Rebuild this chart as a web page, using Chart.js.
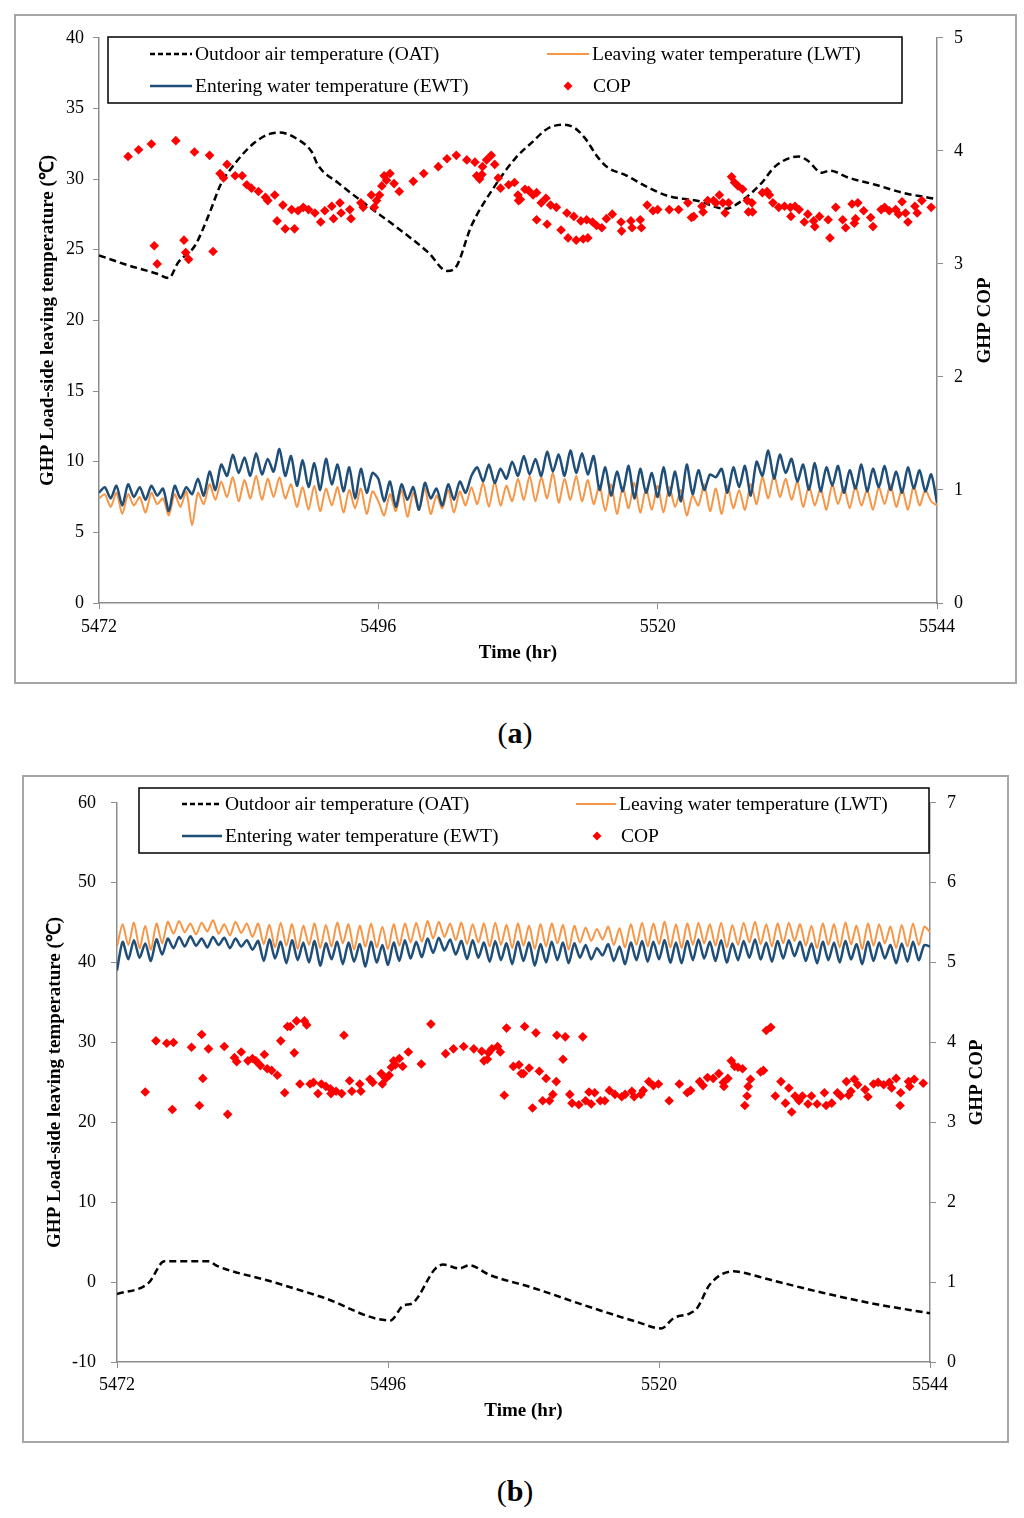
<!DOCTYPE html>
<html lang="en">
<head>
<meta charset="UTF-8">
<title>GHP load-side temperatures and COP</title>
<script src="https://cdn.jsdelivr.net/npm/chart.js"></script>
<style>
  html, body { margin: 0; padding: 0; background: #fff; }
  body { width: 1024px; height: 1518px; position: relative; font-family: "Liberation Serif", serif; }
  .panel { position: absolute; border: 2px solid #a6a6a6; box-sizing: border-box; background: #fff; }
  #pa { left: 14px; top: 14px; width: 1003px; height: 670px; }
  #pb { left: 22px; top: 775px; width: 987px; height: 668px; }
  .panel canvas { position: absolute; left: 0; top: 0; }
  .cap { position: absolute; left: 0; width: 1030px; text-align: center; font-size: 30px; color: #000; }
</style>
</head>
<body>
<div class="panel" id="pa"><canvas id="ca" width="999" height="666"></canvas></div>
<div class="cap" style="top:716px">(<b>a</b>)</div>
<div class="panel" id="pb"><canvas id="cb" width="983" height="664"></canvas></div>
<div class="cap" style="top:1474px">(<b>b</b>)</div>
<script>
// ---- time base for the water temperature traces (half-hour samples) ----
const t0 = 5472;
const stepHr = 0.5;

// ---- panel (a) ----
const oatHrsA = [5472, 5474.5, 5477, 5478, 5478.8, 5480.25, 5481.4, 5482.5, 5483.4, 5484.5, 5485.4, 5486.5, 5487.5,
  5489.1, 5490.3, 5490.8, 5492.6, 5495.1, 5497.4, 5500.3, 5501.9, 5502.6, 5504.0, 5506.0, 5507.8, 5509.2, 5510.6,
  5512.0, 5512.9, 5513.75, 5514.9, 5515.75, 5517.2, 5519.2, 5520.9, 5523.5, 5525.8, 5527.2, 5528.9, 5530.1, 5532.1,
  5532.9, 5534.1, 5534.8, 5536.4, 5538.7, 5541.2, 5543.8, 5544];
const oatA = [24.6, 23.9, 23.3, 23.0, 24.1, 25.3, 27.4, 29.7, 30.8, 31.9, 32.6, 33.15, 33.3,
  32.8, 31.9, 31.0, 29.7, 28.1, 26.7, 24.8, 23.5, 23.7, 26.7, 29.5, 31.5, 32.6, 33.6,
  33.85, 33.6, 32.9, 31.5, 30.8, 30.3, 29.4, 28.8, 28.45, 27.9, 28.45, 29.7, 30.9, 31.6,
  31.3, 30.45, 30.6, 30.1, 29.6, 29.0, 28.6, 28.55];

const ewtA = [7.8, 8.2, 7.4, 8.3, 6.9, 8.4, 7.5, 8.2, 7.3, 8.3, 7.6, 8.1, 6.5, 8.3, 7.4, 8.2, 7.7,
  8.8, 7.6, 9.3, 8.0, 9.8,
  9.0, 10.5, 9.2, 10.3, 9.0, 10.6, 9.1, 10.2, 9.3, 10.9, 9.0,
  10.4, 8.3, 10.1, 8.2, 9.9, 8.0, 10.2, 8.4, 9.8, 7.9,
  9.6, 7.4, 9.5, 7.8, 9.2, 8.8,
  7.2, 8.6, 6.8, 8.4, 7.3, 8.2, 6.6, 8.5, 7.4, 8.1, 6.9, 8.4, 7.3, 8.6, 7.8, 9.0,
  9.6, 8.6, 9.8, 8.5, 9.5, 8.8, 10.0, 9.0,
  10.4, 9.1, 10.2, 9.0, 10.7, 9.3, 10.5, 9.0, 10.8, 9.2, 10.6, 9.1, 10.4,
  8.0, 9.6, 7.6, 9.3, 7.9, 9.7, 7.4, 9.5, 7.8, 9.2, 7.5,
  9.6, 7.6, 9.3, 7.2, 9.8, 7.7, 9.4, 8.0, 9.1, 8.9, 9.5, 7.8, 9.6, 8.2, 9.7, 7.6, 10.0,
  9.0, 10.8, 8.8, 10.5, 9.2, 10.2, 8.6,
  9.8, 8.0, 9.9, 7.9, 9.6, 8.3, 9.7, 7.8, 9.4, 8.1, 9.8, 7.9, 9.5, 8.2, 9.7, 8.0, 9.3, 7.8, 9.6, 8.1, 9.4, 7.9, 9.1, 7.1];

const lwtA = [7.4, 7.7, 6.8, 7.8, 6.3, 7.7, 6.9, 7.5, 6.4, 7.8, 7.0, 7.4, 6.2, 7.7, 6.8, 7.9, 5.5,
  7.8, 7.0, 8.4, 7.3, 8.6, 7.5, 8.9, 7.2, 8.7, 7.4, 9.0, 7.3, 8.8, 7.5, 8.9, 7.4,
  8.4, 6.8, 8.2, 6.6, 8.3, 6.5, 8.1, 6.9, 8.2, 6.4, 8.0, 6.7, 8.1, 6.3, 7.9, 7.2,
  6.2, 7.7, 6.5, 8.0, 6.1, 7.8, 6.6, 8.1, 6.3, 7.6, 6.7, 8.0, 6.4, 7.9, 6.9, 8.2,
  7.0, 8.5, 6.8, 8.6, 6.9, 8.3, 7.2, 8.8,
  7.3, 9.0, 7.2, 8.9, 7.4, 9.2, 7.1, 8.8, 7.3, 9.0, 7.2, 8.7, 7.0,
  8.3, 6.5, 8.4, 6.3, 8.2, 6.7, 8.5, 6.4, 8.1, 6.6, 8.3,
  6.4, 8.2, 6.8, 8.0, 6.2, 7.6, 6.9, 8.4, 6.5, 8.1, 6.3, 8.3, 6.7, 8.0, 6.6, 8.4, 7.0,
  8.9, 7.4, 9.1, 7.5, 8.8, 7.3, 8.6,
  6.8, 8.3, 6.9, 8.1, 6.6, 8.4, 7.0, 8.2, 6.7, 8.3, 6.9, 8.0, 6.6, 8.2, 7.0, 8.4, 6.8, 8.1, 6.6, 8.3, 6.9, 8.0, 7.2, 6.9];

const copHrsA = [5474.5, 5475.4, 5476.5, 5478.6, 5480.2, 5481.5, 5476.75, 5477.0, 5479.3, 5479.45, 5479.7, 5481.8,
  5483.0, 5482.4, 5482.7, 5483.7, 5484.3, 5484.7, 5485.1, 5485.7, 5486.3, 5486.5, 5487.1, 5487.3, 5487.8, 5488.0,
  5488.55, 5488.8, 5489.1, 5489.55, 5490.0, 5490.55, 5491.05, 5491.4, 5492.0, 5492.15, 5492.7, 5492.8, 5493.55,
  5493.65, 5494.5, 5494.7, 5495.4, 5495.65, 5495.85, 5496.1, 5496.3, 5496.5, 5497.0, 5496.7, 5497.35, 5497.8,
  5499.0, 5499.9, 5501.15, 5501.9, 5502.7, 5503.6, 5504.3, 5504.45, 5504.7, 5504.9, 5504.95, 5505.3, 5505.7,
  5506.0, 5506.3, 5506.5, 5507.2, 5507.7, 5508.0, 5508.05,
  5508.2, 5508.6, 5508.9, 5509.3, 5509.6, 5509.6, 5510.0, 5510.4, 5510.5, 5510.8, 5511.3, 5511.7, 5512.2, 5512.3,
  5512.8, 5513.0, 5513.4, 5513.6, 5513.9, 5514.0, 5514.4, 5514.75, 5515.2, 5515.6, 5516.1, 5516.85, 5516.9, 5517.7,
  5517.8, 5518.5, 5518.6, 5519.1, 5519.6, 5520.0, 5521.0, 5521.8, 5522.6, 5522.9, 5523.1, 5523.8, 5523.9, 5524.3,
  5524.8, 5525.0, 5525.3, 5525.6, 5525.8, 5526.1, 5526.35, 5526.6, 5526.9, 5527.3, 5527.7, 5527.8, 5528.1, 5528.15,
  5529.0, 5529.4, 5529.6, 5529.9, 5530.4, 5530.9, 5531.4, 5531.45, 5531.8, 5532.15, 5532.6, 5532.9, 5533.4, 5533.5,
  5533.9, 5534.65, 5534.8, 5535.3, 5535.9, 5536.15, 5536.7, 5536.9, 5537.0, 5537.2, 5537.7, 5538.3, 5538.5, 5539.2,
  5539.5, 5539.9, 5540.45, 5540.7, 5541.0, 5541.3, 5541.5, 5542.1, 5542.3, 5542.7, 5543.5];
const copA = [3.95, 4.01, 4.06, 4.09, 3.99, 3.96, 3.16, 3.00, 3.21, 3.10, 3.04, 3.11,
  3.88, 3.80, 3.76, 3.78, 3.78, 3.70, 3.67, 3.64, 3.59, 3.56, 3.61, 3.38, 3.52, 3.31,
  3.48, 3.31, 3.47, 3.50, 3.48, 3.45, 3.37, 3.47, 3.51, 3.40, 3.54, 3.45, 3.48,
  3.40, 3.54, 3.50, 3.61, 3.50, 3.56, 3.61, 3.69, 3.78, 3.80, 3.74, 3.71, 3.64,
  3.73, 3.80, 3.86, 3.93, 3.96, 3.92, 3.90, 3.78, 3.75, 3.79, 3.86, 3.92, 3.96,
  3.88, 3.76, 3.67, 3.70, 3.72, 3.61, 3.56,
  3.57, 3.66, 3.65, 3.61, 3.63, 3.39, 3.54, 3.58, 3.35, 3.52, 3.50, 3.30, 3.45, 3.23,
  3.42, 3.21, 3.38, 3.22, 3.39, 3.23, 3.37, 3.34, 3.32, 3.40, 3.44, 3.37, 3.29, 3.38,
  3.32, 3.39, 3.32, 3.52, 3.47, 3.48, 3.48, 3.48, 3.54, 3.41, 3.42, 3.51, 3.46, 3.56,
  3.56, 3.54, 3.61, 3.54, 3.45, 3.54, 3.77, 3.72, 3.69, 3.66, 3.56, 3.46, 3.54, 3.46,
  3.63, 3.64, 3.61, 3.54, 3.50, 3.51, 3.50, 3.42, 3.51, 3.48, 3.37, 3.44, 3.38, 3.33,
  3.42, 3.39, 3.23, 3.50, 3.39, 3.32, 3.53, 3.36, 3.40, 3.54, 3.47, 3.41, 3.33, 3.48,
  3.50, 3.47, 3.48, 3.44, 3.55, 3.45, 3.37, 3.51, 3.45, 3.56, 3.50];

// ---- panel (b) ----
const oatHrsB = [5472, 5474.8, 5476.2, 5480.1, 5480.9, 5485.6, 5490.2, 5496.2, 5497.4, 5498.1, 5500.2, 5500.9,
  5502.3, 5503.2, 5505.0, 5508.8, 5513.4, 5518.1, 5520.2, 5521.3, 5522.75, 5523.4, 5524.5, 5526.6, 5527.4,
  5529.7, 5534.4, 5539.0, 5544];
const oatB = [-1.5, -0.1, 2.6, 2.6, 2.0, 0.1, -1.9, -4.8, -2.9, -2.7, 1.7, 2.2,
  1.7, 2.1, 0.9, -0.7, -2.9, -5.0, -5.8, -4.5, -3.9, -3.2, -0.3, 1.35, 1.2,
  0.35, -1.3, -2.7, -3.9];

const ewtB = [39.0, 42.6, 40.4, 42.8, 40.6, 42.4, 40.2, 42.9, 41.0, 43.0,
  41.8, 43.2, 42.0, 43.3, 42.1, 43.0, 41.9, 43.2, 42.2, 43.1, 41.8, 43.0, 42.0, 42.8, 41.6,
  42.7, 40.2, 42.9, 40.5, 42.6, 39.9, 42.8, 40.3, 42.5, 40.0, 42.7, 39.6, 42.4, 40.4, 42.6, 39.8, 42.5, 40.1, 42.3, 39.5, 42.6, 40.0, 42.2, 39.7, 42.5, 40.2,
  42.8, 40.5, 42.6, 40.7, 43.0, 41.2, 43.1, 41.5, 42.9, 41.0, 42.7, 40.4, 42.8, 40.6, 42.5, 40.1, 42.7, 40.3, 42.4, 39.8, 42.6, 40.2, 42.5, 39.6, 42.3, 40.0, 42.6, 40.3, 42.5, 39.9,
  42.4, 40.6, 42.2, 40.4, 41.8, 40.9, 42.3, 40.2, 42.0, 39.8, 42.5, 40.3, 42.7, 40.1, 42.6, 40.4, 42.8, 40.0, 42.5, 39.9, 42.7, 40.3, 42.9, 40.5, 42.6, 40.2, 42.8, 40.0, 42.4, 40.3,
  42.7, 40.6, 42.9, 40.4, 42.5, 40.1, 42.7, 40.5, 42.8, 40.8, 42.6, 40.2, 42.4, 39.9, 42.6, 40.3, 42.5, 40.0, 42.7, 40.4, 42.3, 39.8, 42.6, 40.2, 42.5, 40.5, 42.2, 39.9, 42.4, 40.1, 42.6, 40.3, 42.2, 42.0];

const lwtB = [42.0, 44.8, 42.2, 45.0, 41.8, 44.6, 41.6, 44.9, 42.4, 45.1,
  43.6, 45.2, 43.8, 44.9, 43.5, 45.0, 43.9, 45.3, 43.6, 44.8, 43.4, 45.1, 43.7, 44.9, 43.2,
  44.9, 42.3, 44.7, 41.9, 45.0, 42.1, 44.8, 41.7, 44.6, 42.2, 44.9, 41.8, 44.7, 42.0, 45.0, 42.4, 44.8, 41.6, 44.6, 42.0, 44.9, 41.9, 44.5, 41.7, 44.8, 42.1,
  44.9, 42.5, 45.0, 42.6, 45.2, 43.0, 45.1, 43.2, 44.9, 42.8, 45.0, 42.3, 44.8, 42.5, 44.9, 42.0, 45.0, 42.2, 44.7, 41.8, 44.9, 42.1, 44.6, 41.7, 44.8, 42.0, 44.9, 42.4, 44.7, 41.6,
  44.6, 42.5, 44.4, 42.7, 44.2, 42.9, 44.5, 42.2, 44.3, 41.9, 44.8, 42.2, 45.0, 42.0, 44.9, 42.3, 45.1, 41.9, 44.8, 41.8, 44.9, 42.2, 45.0, 42.4, 44.8, 42.1, 45.0, 41.9, 44.7, 42.2,
  45.0, 42.5, 45.1, 42.3, 44.8, 42.0, 44.9, 42.4, 45.0, 42.7, 44.8, 42.1, 44.6, 41.8, 44.9, 42.2, 44.8, 41.9, 45.0, 42.3, 44.6, 41.7, 44.9, 42.1, 44.8, 42.4, 44.5, 41.8, 44.7, 42.0, 44.9, 42.2, 44.5, 43.8];

const copHrsB = [5474.5, 5475.45, 5476.4, 5477.0, 5476.9, 5478.6, 5479.5, 5479.6, 5479.3, 5480.1, 5481.5, 5481.8,
  5482.4, 5482.6, 5483.0, 5483.6, 5484.0, 5484.3, 5484.7, 5485.05, 5485.3, 5485.7, 5486.2, 5486.5, 5486.85,
  5487.1, 5487.35, 5487.7, 5487.9, 5488.6, 5488.8, 5488.2, 5489.1, 5489.4, 5489.8, 5490.1, 5490.5, 5490.9,
  5490.95, 5491.4, 5491.9, 5492.1, 5492.6, 5492.8, 5493.5, 5493.6, 5494.4, 5494.65, 5495.4, 5495.5, 5495.8,
  5496.1, 5496.3, 5496.5, 5496.65, 5497.0, 5497.3, 5497.8, 5498.95, 5499.8, 5501.1, 5501.8, 5502.7, 5503.6,
  5504.3, 5504.5, 5504.8, 5504.9, 5505.2, 5505.7, 5505.95, 5506.3, 5506.5, 5507.1, 5507.6, 5507.8,
  5508.1, 5508.0, 5508.5, 5508.8, 5509.1, 5509.4, 5509.7, 5510.0, 5510.3, 5510.6, 5510.9, 5510.95, 5511.5,
  5511.7, 5512.1, 5512.3, 5512.9, 5513.25, 5513.5, 5513.8, 5514.0, 5514.3, 5514.8, 5515.2, 5515.6, 5516.1,
  5516.7, 5517.0, 5517.6, 5517.8, 5518.4, 5518.6, 5519.1, 5519.5, 5519.95, 5520.9, 5521.8, 5522.5, 5522.8,
  5523.6, 5523.9, 5524.3, 5524.8, 5525.3, 5525.7, 5525.75, 5526.1, 5526.4, 5526.7, 5527.0, 5527.4, 5527.6,
  5527.8, 5527.9, 5528.1, 5529.0, 5529.25, 5529.5, 5529.9, 5530.3, 5530.8, 5531.2, 5531.5, 5531.75, 5532.05,
  5532.4, 5532.7, 5533.2, 5533.5, 5534.0, 5534.65, 5534.8, 5535.3, 5535.8, 5536.1, 5536.6, 5536.8, 5537.0,
  5537.3, 5537.6, 5538.25, 5538.5, 5539.0, 5539.4, 5539.9, 5540.4, 5540.6, 5541.0, 5541.35, 5541.4, 5542.1,
  5542.2, 5542.6, 5543.4];
const copB = [3.38, 4.02, 3.99, 4.00, 3.16, 3.94, 4.10, 3.55, 3.21, 3.92, 3.95, 3.10,
  3.81, 3.76, 3.88, 3.77, 3.80, 3.77, 3.71, 3.85, 3.67, 3.65, 3.59, 4.02, 3.37,
  4.20, 4.20, 3.87, 4.27, 4.27, 4.22, 3.48, 3.48, 3.50, 3.36, 3.48, 3.45, 3.42,
  3.36, 3.39, 3.36, 4.09, 3.52, 3.39, 3.48, 3.39, 3.54, 3.50, 3.61, 3.48, 3.55,
  3.59, 3.69, 3.77, 3.72, 3.80, 3.70, 3.88, 3.73, 4.23, 3.86, 3.92, 3.95, 3.92,
  3.89, 3.77, 3.79, 3.87, 3.92, 3.95, 3.88, 3.34, 4.18, 3.70, 3.72, 3.61,
  4.20, 3.61, 3.68, 3.18, 4.12, 3.64, 3.27, 3.55, 3.27, 3.35, 3.51, 4.09, 3.79,
  4.07, 3.35, 3.24, 3.22, 4.07, 3.27, 3.38, 3.23, 3.37, 3.27, 3.27, 3.40, 3.35,
  3.32, 3.35, 3.39, 3.32, 3.35, 3.40, 3.51, 3.46, 3.48, 3.27, 3.48, 3.37, 3.40,
  3.51, 3.46, 3.56, 3.55, 3.61, 3.50, 3.45, 3.55, 3.77, 3.70, 3.69, 3.67, 3.21,
  3.33, 3.45, 3.54, 3.63, 3.65, 4.15, 4.19, 3.33, 3.51, 3.24, 3.43, 3.13, 3.33,
  3.27, 3.33, 3.23, 3.33, 3.23, 3.37, 3.21, 3.24, 3.37, 3.33, 3.51, 3.34, 3.39,
  3.54, 3.47, 3.41, 3.32, 3.48, 3.50, 3.47, 3.50, 3.43, 3.55, 3.21, 3.37, 3.51,
  3.45, 3.54, 3.49];

// ---- helpers ----
function halfHourly(vals) { return vals.map((v, i) => ({ x: t0 + i * stepHr, y: v })); }
function pairs(xs, ys) { return xs.map((x, i) => ({ x: x, y: ys[i] })); }

const serif = '"Liberation Serif", "Times New Roman", serif';
const tickFont = { family: serif, size: 18 };
const axisGrey = '#8c8c8c';

// legend box + axis titles drawn inside the canvas
const decor = {
  id: 'decor',
  afterDraw(chart, args, o) {
    const c = chart.ctx, a = chart.chartArea, L = o.legend;
    c.save();
    c.strokeStyle = '#000';
    c.lineWidth = 1.5;
    c.strokeRect(L.x, L.y, L.w, L.h);
    c.font = '19.5px ' + serif;
    c.fillStyle = '#000';
    c.textBaseline = 'middle';
    c.textAlign = 'left';
    const items = [
      { sx: L.sampleX[0], y: L.rows[0], color: '#000', dash: [5, 3], w: 2.5, text: 'Outdoor air temperature (OAT)' },
      { sx: L.sampleX[1], y: L.rows[0], color: '#f79646', dash: [], w: 2, text: 'Leaving water temperature (LWT)' },
      { sx: L.sampleX[0], y: L.rows[1], color: '#1f4e79', dash: [], w: 2.5, text: 'Entering water temperature (EWT)' }
    ];
    items.forEach(it => {
      c.beginPath();
      c.setLineDash(it.dash);
      c.strokeStyle = it.color;
      c.lineWidth = it.w;
      c.moveTo(it.sx, it.y);
      c.lineTo(it.sx + L.sampleW, it.y);
      c.stroke();
      c.fillText(it.text, it.sx + L.sampleW + 3, it.y + 1);
    });
    c.setLineDash([]);
    // COP marker
    c.fillStyle = '#ff0000';
    c.beginPath();
    c.moveTo(L.diamondX, L.rows[1] - 4.5);
    c.lineTo(L.diamondX + 4.5, L.rows[1]);
    c.lineTo(L.diamondX, L.rows[1] + 4.5);
    c.lineTo(L.diamondX - 4.5, L.rows[1]);
    c.closePath();
    c.fill();
    c.fillStyle = '#000';
    c.fillText('COP', L.copTextX, L.rows[1] + 1);

    // axis titles
    c.font = 'bold 19px ' + serif;
    c.textAlign = 'center';
    const midY = (a.top + a.bottom) / 2;
    c.save();
    c.translate(o.leftTitleX, midY);
    c.rotate(-Math.PI / 2);
    c.fillText('GHP Load-side leaving temperature (\u2103)', 0, 0);
    c.restore();
    c.save();
    c.translate(o.rightTitleX, midY);
    c.rotate(-Math.PI / 2);
    c.fillText('GHP COP', 0, 0);
    c.restore();
    c.fillText('Time (hr)', (a.left + a.right) / 2, o.bottomTitleY);
    c.restore();
  }
};

function build(id, p) {
  const gridOpt = { display: true, drawOnChartArea: false, drawTicks: true, tickLength: 6, color: axisGrey };
  const borderOpt = { display: true, color: axisGrey, width: 1.5 };
  return new Chart(document.getElementById(id), {
    type: 'scatter',
    data: {
      datasets: [
        { label: 'COP', data: pairs(p.copHrs, p.cop), yAxisID: 'y2', pointStyle: 'rectRot', pointRadius: 4.8,
          backgroundColor: '#ff0000', borderColor: '#ff0000', borderWidth: 0, showLine: false, order: 0 },
        { label: 'OAT', data: pairs(p.oatHrs, p.oat), yAxisID: 'y', showLine: true, borderColor: '#000',
          borderWidth: 2.5, borderDash: [7, 4], pointRadius: 0, cubicInterpolationMode: 'monotone', order: 1 },
        { label: 'EWT', data: halfHourly(p.ewt), yAxisID: 'y', showLine: true, borderColor: '#1f4e79',
          borderWidth: 2.5, pointRadius: 0, tension: 0.25, order: 2 },
        { label: 'LWT', data: halfHourly(p.lwt), yAxisID: 'y', showLine: true, borderColor: '#f79646',
          borderWidth: 2, pointRadius: 0, tension: 0.25, order: 3 }
      ]
    },
    options: {
      responsive: false,
      animation: false,
      devicePixelRatio: 1,
      layout: { padding: { top: p.padTop, left: 0, right: 0, bottom: 0 } },
      plugins: { legend: { display: false }, tooltip: { enabled: false }, decor: p.decor },
      scales: {
        x: {
          type: 'linear', min: 5472, max: 5544,
          ticks: { stepSize: 24, callback: v => String(v), padding: p.xPad, color: '#000', font: tickFont, maxRotation: 0 },
          grid: gridOpt, border: borderOpt,
          afterFit: s => { s.height = p.xH; }
        },
        y: {
          position: 'left', min: p.yMin, max: p.yMax,
          ticks: { stepSize: p.yStep, padding: p.yPad, color: '#000', font: tickFont },
          grid: gridOpt, border: borderOpt,
          afterFit: s => { s.width = p.yW; }
        },
        y2: {
          position: 'right', min: 0, max: p.y2Max,
          ticks: { stepSize: 1, padding: p.y2Pad, color: '#000', font: tickFont },
          grid: gridOpt, border: borderOpt,
          afterFit: s => { s.width = p.y2W; }
        }
      }
    },
    plugins: [decor]
  });
}

build('ca', {
  oatHrs: oatHrsA, oat: oatA, ewt: ewtA, lwt: lwtA, copHrs: copHrsA, cop: copA,
  yMin: 0, yMax: 40, yStep: 5, y2Max: 5,
  padTop: 18, yW: 83, y2W: 78, xH: 79, xPad: 7, yPad: 9, y2Pad: 11,
  decor: {
    legend: { x: 92, y: 21, w: 794, h: 66, rows: [38, 70], sampleX: [134, 531], sampleW: 42, diamondX: 552, copTextX: 577 },
    leftTitleX: 32, rightTitleX: 969, bottomTitleY: 637
  }
});

build('cb', {
  oatHrs: oatHrsB, oat: oatB, ewt: ewtB, lwt: lwtB, copHrs: copHrsB, cop: copB,
  yMin: -10, yMax: 60, yStep: 10, y2Max: 7,
  padTop: 15, yW: 93, y2W: 77, xH: 79, xPad: 6, yPad: 15, y2Pad: 11,
  decor: {
    legend: { x: 115, y: 11, w: 790, h: 65, rows: [27, 59], sampleX: [158, 552], sampleW: 40, diamondX: 573, copTextX: 597 },
    leftTitleX: 31, rightTitleX: 953, bottomTitleY: 634
  }
});
</script>
</body>
</html>
